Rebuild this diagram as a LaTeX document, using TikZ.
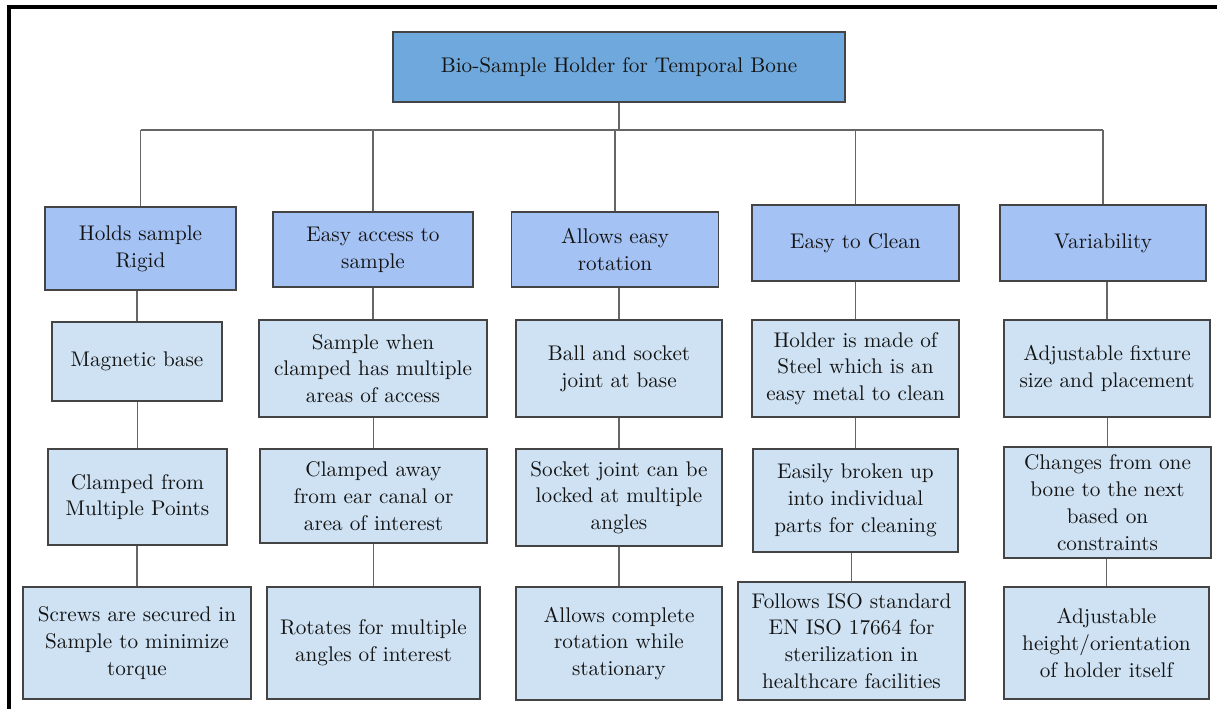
\documentclass[tikz,border=0pt]{standalone}
\usepackage{tikz}
\usetikzlibrary{calc}
\definecolor{topblue}{HTML}{6FA8DC}
\definecolor{midblue}{HTML}{A4C2F4}
\definecolor{paleblue}{HTML}{CFE2F3}
\definecolor{edgegray}{HTML}{444444}
\definecolor{linkgray}{HTML}{666666}
\tikzset{
	box/.style={draw=edgegray, line width=0.75pt, align=center, inner sep=2pt,
		text=black!92, font=\fontsize{10.6}{13.4}\selectfont},
	headbox/.style={box, fill=topblue},
	goalbox/.style={box, fill=midblue},
	itembox/.style={box, fill=paleblue},
	sz/.style 2 args={minimum width=#1*0.5pt, minimum height=#2*0.5pt},
	link/.style={draw=linkgray, line width=0.8pt},
}

\begin{document}
\begin{tikzpicture}[x=0.5pt,y=-0.5pt]
	\useasboundingbox (0,0) rectangle (1217,709);
	\draw [line width=2pt] (1217,7) -- (9,7) -- (9,709);
	% top of the tree
	\node [headbox, sz={452}{70}] (title) at (619,67) {Bio-Sample Holder for Temporal Bone};
	\coordinate (bus) at (619,130);
	% first level
	\node [goalbox, sz={191}{83}] (rigid)  at (140.5,248.5) {Holds sample\\Rigid};
	\node [goalbox, sz={200}{75}] (access) at (373,249.5) {Easy access to\\sample};
	\node [goalbox, sz={207}{75}] (rotate) at (615,249.5) {Allows easy\\rotation};
	\node [goalbox, sz={207}{76}] (clean)  at (855.5,243) {Easy to Clean};
	\node [goalbox, sz={206}{76}] (vary)   at (1103,243) {Variability};
	% second level
	\node [itembox, sz={170}{79}] (rigidA)  at (137,361.5) {Magnetic base};
	\node [itembox, sz={228}{97}] (accessA) at (373,368.5) {Sample when\\clamped has multiple\\areas of access};
	\node [itembox, sz={206}{97}] (rotateA) at (619,368.5) {Ball and socket\\joint at base};
	\node [itembox, sz={207}{97}] (cleanA)  at (855.5,368.5) {Holder is made of\\Steel which is an\\easy metal to clean};
	\node [itembox, sz={206}{97}] (varyA)   at (1107,368.5) {Adjustable fixture\\size and placement};
	% third level
	\node [itembox, sz={179}{96}]  (rigidB)  at (137.5,497) {Clamped from\\Multiple Points};
	\node [itembox, sz={227}{94}]  (accessB) at (373.5,496) {Clamped away\\from ear canal or\\area of interest};
	\node [itembox, sz={206}{97}]  (rotateB) at (619,497.5) {Socket joint can be\\locked at multiple\\angles};
	\node [itembox, sz={205}{103}] (cleanB)  at (855.5,500.5) {Easily broken up\\into individual\\parts for cleaning};
	\node [itembox, sz={207}{111}] (varyB)   at (1107.5,502.5) {Changes from one\\bone to the next\\based on\\constraints};
	% fourth level
	\node [itembox, sz={228}{112}] (rigidC)  at (137,643) {Screws are secured in\\Sample to minimize\\torque};
	\node [itembox, sz={213}{112}] (accessC) at (373.5,643) {Rotates for multiple\\angles of interest};
	\node [itembox, sz={206}{113}] (rotateC) at (619,643.5) {Allows complete\\rotation while\\stationary};
	\node [itembox, sz={227}{118}] (cleanC)  at (851.5,641) {Follows ISO standard\\EN ISO 17664 for\\sterilization in\\healthcare facilities};
	\node [itembox, sz={205}{112}] (varyC)   at (1106.5,643) {Adjustable\\height/orientation\\of holder itself};
	% bus and branches
	\draw [link] (title.south) -- (bus);
	\draw [link] (rigid.north |- bus) -- (vary.north |- bus);
	\draw [link] (rigid.north) -- (rigid.north |- bus);
	\draw [link] (access.north) -- (access.north |- bus);
	\draw [link] (rotate.north) -- (rotate.north |- bus);
	\draw [link] (clean.north) -- (clean.north |- bus);
	\draw [link] (vary.north) -- (vary.north |- bus);
	% columns
	\draw [link] (rigidA.north) -- (rigidA.north |- rigid.south);
	\draw [link] (rigidB.north) -- (rigidB.north |- rigidA.south);
	\draw [link] (rigidC.north) -- (rigidC.north |- rigidB.south);
	\draw [link] (accessA.north) -- (accessA.north |- access.south);
	\draw [link] (accessB.north) -- (accessB.north |- accessA.south);
	\draw [link] (accessC.north) -- (accessC.north |- accessB.south);
	\draw [link] (rotateA.north) -- (rotateA.north |- rotate.south);
	\draw [link] (rotateB.north) -- (rotateB.north |- rotateA.south);
	\draw [link] (rotateC.north) -- (rotateC.north |- rotateB.south);
	\draw [link] (cleanA.north) -- (cleanA.north |- clean.south);
	\draw [link] (cleanB.north) -- (cleanB.north |- cleanA.south);
	\draw [link] (cleanC.north) -- (cleanC.north |- cleanB.south);
	\draw [link] (varyA.north) -- (varyA.north |- vary.south);
	\draw [link] (varyB.north) -- (varyB.north |- varyA.south);
	\draw [link] (varyC.north) -- (varyC.north |- varyB.south);
\end{tikzpicture}
\end{document}
